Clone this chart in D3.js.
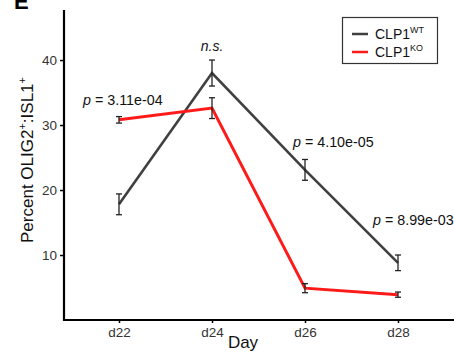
<!DOCTYPE html>
<html><head><meta charset="utf-8">
<script src="https://cdn.jsdelivr.net/npm/d3@7"></script>
<style>body{margin:0;background:#fff}svg{display:block;font-family:"Liberation Sans",Arial,sans-serif}</style>
</head><body><svg id="c" width="454" height="353"></svg>
<script>
const days = ["d22","d24","d26","d28"];
const wtMean = [17.8, 38.0, 23.1, 8.8];
const wtErr  = [1.6, 2.0, 1.6, 1.2];
const koMean = [30.8, 32.6, 4.9, 3.9];
const koErr  = [0.5, 1.6, 0.7, 0.4];
const yTicks = [10, 20, 30, 40];
const pLabels = [{day:"d22", val:"3.11e-04"}, {day:"d26", val:"4.10e-05"}, {day:"d28", val:"8.99e-03"}];
const nsDay = "d24";

const svg = d3.select("#c");
const x = d3.scalePoint().domain(days).range([119, 398]);
const y = d3.scaleLinear().domain([0, 47.7]).range([320, 10]);

// axes
const yAx = svg.append("g").attr("transform","translate(64,0)")
  .call(d3.axisLeft(y).tickValues(yTicks).tickSize(4).tickPadding(3));
yAx.select(".domain").remove();
yAx.selectAll(".tick line").attr("stroke","#000").attr("stroke-width",1.5);
yAx.selectAll(".tick text").attr("font-size",13.5).attr("fill","#333").attr("font-family","Liberation Sans, Arial, sans-serif");
svg.append("line").attr("x1",64).attr("x2",64).attr("y1",10).attr("y2",321).attr("stroke","#000").attr("stroke-width",2.2);

const xAx = svg.append("g").attr("transform","translate(0,320)")
  .call(d3.axisBottom(x).tickSize(3).tickPadding(4));
xAx.select(".domain").remove();
xAx.selectAll(".tick line").attr("stroke","#000").attr("stroke-width",1.5);
xAx.selectAll(".tick text").attr("font-size",13.5).attr("fill","#333").attr("font-family","Liberation Sans, Arial, sans-serif");
svg.append("line").attr("x1",63).attr("x2",454).attr("y1",320).attr("y2",320).attr("stroke","#000").attr("stroke-width",2.2);

// lines
const line = d3.line().x((d,i)=>x(days[i])).y(d=>y(d));
svg.append("path").datum(wtMean).attr("d",line).attr("fill","none").attr("stroke","#404040").attr("stroke-width",2.6);
svg.append("path").datum(koMean).attr("d",line).attr("fill","none").attr("stroke","#ff1a1a").attr("stroke-width",3);

function errBars(means, errs){
  const g = svg.append("g").attr("stroke","#222").attr("stroke-width",1.3);
  means.forEach((m,i)=>{
    const cx = x(days[i]), t = y(m+errs[i]), b = y(m-errs[i]);
    g.append("line").attr("x1",cx).attr("x2",cx).attr("y1",t).attr("y2",b);
    g.append("line").attr("x1",cx-3).attr("x2",cx+3).attr("y1",t).attr("y2",t);
    g.append("line").attr("x1",cx-3).attr("x2",cx+3).attr("y1",b).attr("y2",b);
  });
}
errBars(wtMean, wtErr);
errBars(koMean, koErr);

// annotations
const pPos = {"d22":[83,105],"d26":[293,147],"d28":[373,225]};
pLabels.forEach(p=>{
  const [px,py] = pPos[p.day];
  const t = svg.append("text").attr("x",px).attr("y",py).attr("font-size",14.3).attr("fill","#111");
  t.append("tspan").attr("font-style","italic").text("p");
  t.append("tspan").text(" = " + p.val);
});
svg.append("text").attr("x",x(nsDay)).attr("y",51).attr("text-anchor","middle").attr("font-size",14)
  .attr("font-style","italic").attr("fill","#111").text("n.s.");

// axis titles
svg.append("text").attr("x",243).attr("y",348).attr("text-anchor","middle").attr("font-size",17).attr("fill","#111").text("Day");
const yl = svg.append("text").attr("transform","translate(33,160) rotate(-90)").attr("text-anchor","middle")
  .attr("font-size",17).attr("fill","#111");
yl.append("tspan").text("Percent OLIG2");
yl.append("tspan").attr("dy",-7).attr("font-size",11).text("+");
yl.append("tspan").attr("dy",7).text(":ISL1");
yl.append("tspan").attr("dy",-7).attr("font-size",11).text("+");

// panel label (partly cropped at the top, as in the reference)
svg.append("text").attr("x",14).attr("y",9).attr("font-size",22).attr("font-weight","bold").attr("fill","#000").text("E");

// legend
svg.append("rect").attr("x",342.5).attr("y",17.5).attr("width",95).attr("height",46).attr("fill","#fff").attr("stroke","#333").attr("stroke-width",1.2);
const leg = [{name:"CLP1", sup:"WT", color:"#404040"},{name:"CLP1", sup:"KO", color:"#ff1a1a"}];
leg.forEach((l,i)=>{
  const ly = 34 + i*18;
  svg.append("line").attr("x1",352).attr("x2",368).attr("y1",ly).attr("y2",ly).attr("stroke",l.color).attr("stroke-width",2.5);
  const t = svg.append("text").attr("x",375).attr("y",ly+5).attr("font-size",14).attr("fill","#111");
  t.append("tspan").text(l.name);
  t.append("tspan").attr("dy",-6).attr("font-size",9).text(l.sup);
});
</script></body></html>
